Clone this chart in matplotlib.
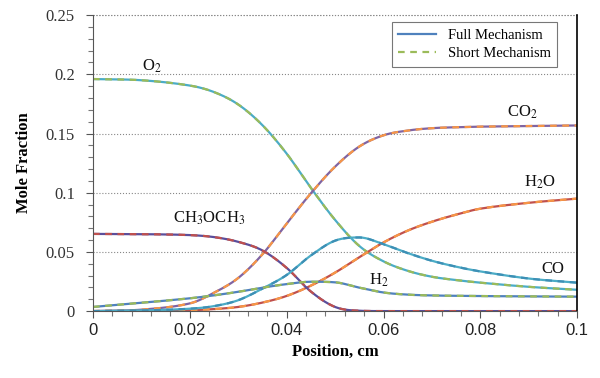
import numpy as np
import matplotlib.pyplot as plt
from matplotlib.ticker import MultipleLocator, FixedLocator

plt.rcParams['mathtext.fontset'] = 'stix'

# Position, cm
x = [0, 0.01, 0.02, 0.025, 0.03, 0.035, 0.04, 0.045, 0.05, 0.055,
     0.06, 0.065, 0.07, 0.075, 0.08, 0.09, 0.1]

# Mole fractions
o2 = [0.196, 0.195, 0.1905, 0.185, 0.1745, 0.157, 0.133, 0.104, 0.077, 0.055,
      0.042, 0.034, 0.029, 0.0262, 0.024, 0.0205, 0.018]
co2 = [0.0, 0.0012, 0.0065, 0.0155, 0.028, 0.048, 0.074, 0.0995, 0.122, 0.139,
       0.1485, 0.1525, 0.1545, 0.1553, 0.1558, 0.1563, 0.1568]
h2o = [0.0, 0.0001, 0.0007, 0.0017, 0.0035, 0.0072, 0.0128, 0.0215, 0.0325, 0.0455,
       0.058, 0.068, 0.0755, 0.0815, 0.0865, 0.0915, 0.095]
ch3och3 = [0.0652, 0.065, 0.0642, 0.0625, 0.0585, 0.0512, 0.0365, 0.0165, 0.0035, 0.0003,
           0.0, 0.0, 0.0, 0.0, 0.0, 0.0, 0.0]
co = [0.0, 0.0005, 0.002, 0.0042, 0.0092, 0.019, 0.0305, 0.047, 0.0595, 0.0622,
      0.0565, 0.049, 0.0425, 0.0375, 0.0335, 0.0275, 0.024]
h2 = [0.0035, 0.007, 0.0108, 0.0133, 0.0163, 0.0198, 0.0228, 0.0248, 0.0243, 0.0198,
      0.0157, 0.0139, 0.0132, 0.0129, 0.0127, 0.0124, 0.0122]

species = [o2, co2, h2o, ch3och3, co, h2]
full_colors = ['#4BACC6', '#8064A2', '#C0504D', '#5B4E9B', '#4BACC6', '#4F81BD']
short_colors = ['#9BBB59', '#F79646', '#F79646', '#C0504D', '#3D8FB5', '#9BBB59']

labels = ['O$_2$', 'CO$_2$', 'H$_2$O', 'CH$_3$OCH$_3$', 'CO', 'H$_2$']
label_pos = [(0.0102, 0.2035), (0.0855, 0.1645), (0.089, 0.1055),
             (0.0165, 0.0745), (0.0925, 0.0325), (0.057, 0.022)]


def smooth(xs, ys, n=500):
    # monotone cubic through the read points (Fritsch-Carlson limited tangents)
    xs = np.asarray(xs, float)
    ys = np.asarray(ys, float)
    h = np.diff(xs)
    d = np.diff(ys) / h
    m = np.zeros_like(ys)
    m[0], m[-1] = d[0], d[-1]
    m[1:-1] = (ys[2:] - ys[:-2]) / (xs[2:] - xs[:-2])
    for k in range(len(d)):
        if d[k] == 0:
            m[k] = m[k + 1] = 0
            continue
        a, b = m[k] / d[k], m[k + 1] / d[k]
        if a < 0:
            m[k] = 0
            a = 0
        if b < 0:
            m[k + 1] = 0
            b = 0
        r = a * a + b * b
        if r > 9:
            tau = 3 / np.sqrt(r)
            m[k] = tau * a * d[k]
            m[k + 1] = tau * b * d[k]
    t = np.linspace(xs[0], xs[-1], n)
    idx = np.clip(np.searchsorted(xs, t) - 1, 0, len(h) - 1)
    s = (t - xs[idx]) / h[idx]
    h00 = 2 * s**3 - 3 * s**2 + 1
    h10 = s**3 - 2 * s**2 + s
    h01 = -2 * s**3 + 3 * s**2
    h11 = s**3 - s**2
    yv = h00 * ys[idx] + h10 * h[idx] * m[idx] + h01 * ys[idx + 1] + h11 * h[idx] * m[idx + 1]
    return t, yv


fig = plt.figure(figsize=(6, 3.78), dpi=100)
ax = fig.add_axes([0.155, 0.177, 0.807, 0.783])

for ys, c1, c2 in zip(species, full_colors, short_colors):
    t, yv = smooth(x, ys)
    ax.plot(t, yv, color=c1, lw=1.6, solid_capstyle='butt')
    ax.plot(t, yv, color=c2, lw=1.6, linestyle=(0, (3, 2.5)))

# legend proxies
ax.plot([], [], color='#4F81BD', lw=1.6, label='Full Mechanism')
ax.plot([], [], color='#9BBB59', lw=1.6, linestyle=(0, (3, 2.5)), label='Short Mechanism')
leg = ax.legend(loc='upper right', bbox_to_anchor=(0.959, 0.976), borderaxespad=0,
                fancybox=False, prop={'family': 'Liberation Serif', 'size': 10.5},
                handlelength=2.6, borderpad=0.45, labelspacing=0.35)
leg.get_frame().set_edgecolor('#555555')
leg.get_frame().set_linewidth(0.8)

for lab, (lx, ly) in zip(labels, label_pos):
    ax.text(lx, ly, lab, fontsize=12, family='Liberation Serif', color='#111111')

ax.set_xlim(0, 0.1)
ax.set_ylim(0, 0.25)
ax.xaxis.set_major_locator(FixedLocator([0, 0.02, 0.04, 0.06, 0.08, 0.1]))
ax.xaxis.set_minor_locator(MultipleLocator(0.004))
ax.yaxis.set_major_locator(FixedLocator([0, 0.05, 0.1, 0.15, 0.2, 0.25]))
ax.yaxis.set_minor_locator(MultipleLocator(0.01))
ax.set_xticklabels(['0', '0.02', '0.04', '0.06', '0.08', '0.1'],
                   family='Liberation Sans', fontsize=12, color='#222222')
ax.set_yticklabels(['0', '0.05', '0.1', '0.15', '0.2', '0.25'],
                   family='Liberation Serif', fontsize=12, color='#333333')
ax.tick_params(which='major', direction='out', length=5, width=0.8, color='#555555')
ax.tick_params(which='minor', direction='out', length=3.5, width=0.8, color='#777777')
ax.tick_params(axis='y', pad=8)

ax.yaxis.grid(True, linestyle=':', color='#888888', lw=0.8)
ax.set_axisbelow(True)
ax.spines['top'].set_visible(False)
ax.axhline(0.25, color='#888888', lw=0.8, linestyle=':', clip_on=False)
ax.spines['left'].set_color('#555555')
ax.spines['bottom'].set_color('#555555')
ax.spines['right'].set_color('black')
ax.spines['right'].set_linewidth(1.2)

ax.set_xlabel('Position, cm', family='Liberation Serif', fontweight='bold', fontsize=12)
ax.set_ylabel('Mole Fraction', family='Liberation Serif', fontweight='bold', fontsize=12,
              labelpad=10)

fig.savefig('out.png', dpi=100)
